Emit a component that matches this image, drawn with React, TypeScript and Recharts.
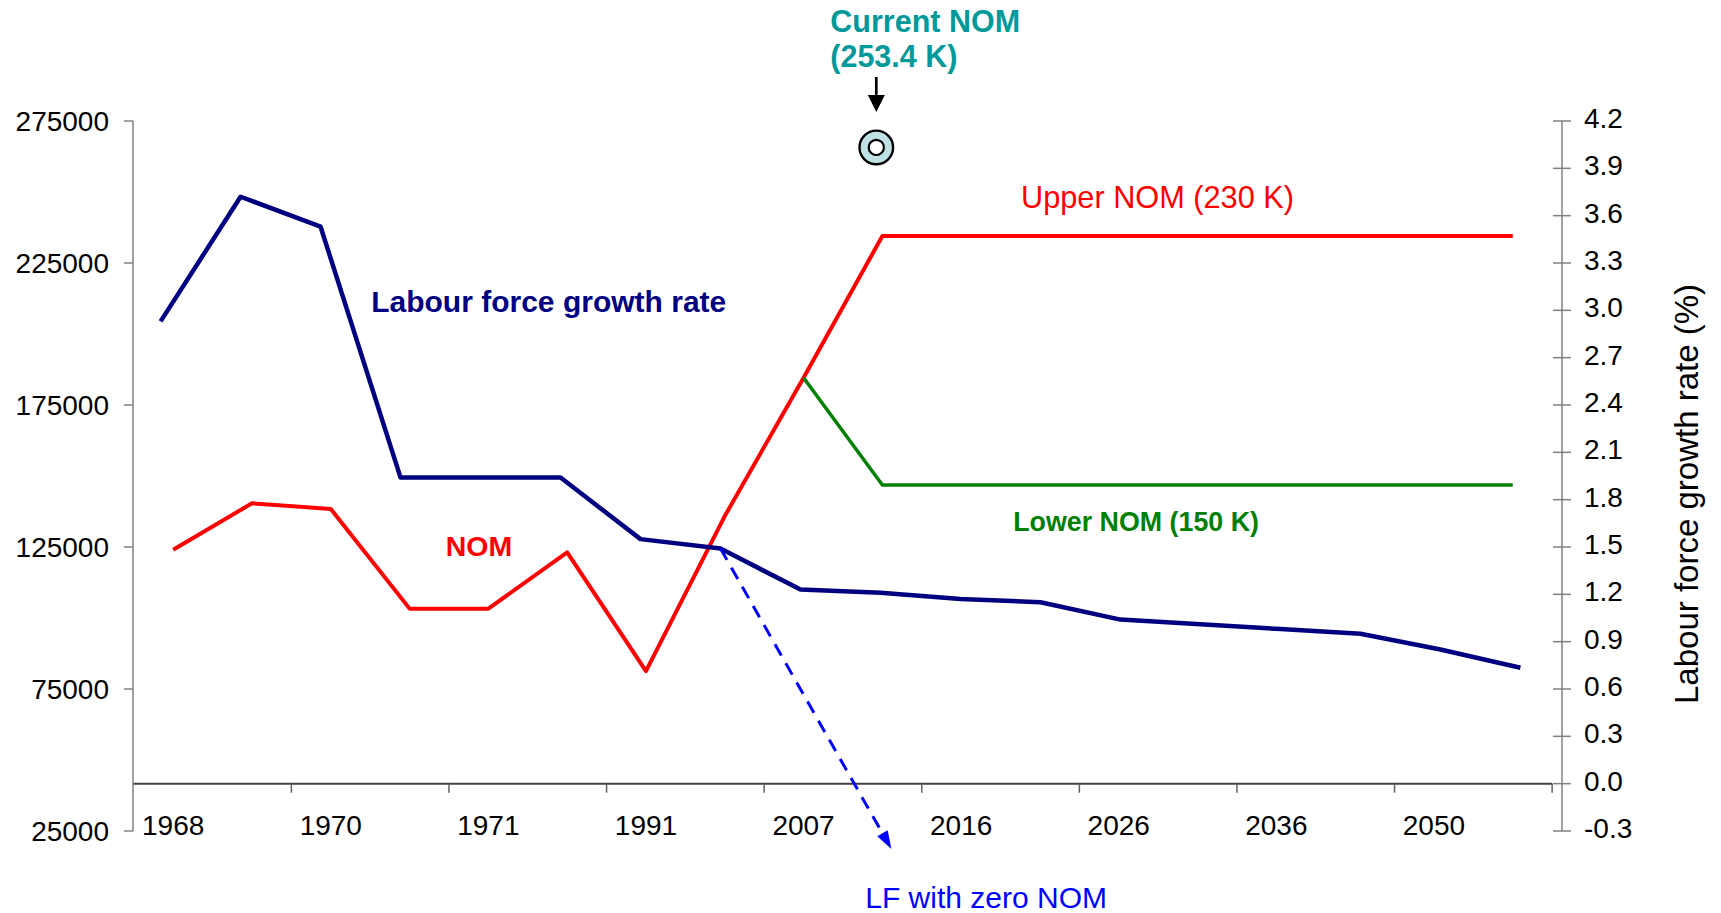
import React from 'react';
import { LineChart, Line, XAxis, YAxis, ReferenceLine, ReferenceDot } from 'recharts';

const FONT = '"Liberation Sans", Arial, Helvetica, sans-serif';

// category axis: only every second label is printed
const years = ['1968', '', '1970', '', '1971', '', '1991', '', '2007', '', '2016', '', '2026', '', '2036', '', '2050', ''];

// net overseas migration (persons), left axis
const nom = [124000, 140400, 138400, 103300, 103300, 123100, 81300, 135900, 184600, null, null, null, null, null, null, null, null, null];
const upperNom = [null, null, null, null, null, null, null, null, 184600, 234500, 234500, 234500, 234500, 234500, 234500, 234500, 234500, 234500];
const lowerNom = [null, null, null, null, null, null, null, null, 184600, 146800, 146800, 146800, 146800, 146800, 146800, 146800, 146800, 146800];

// labour force growth rate (%), right axis
const lfRate = [2.93, 3.72, 3.53, 1.94, 1.94, 1.94, 1.55, 1.49, 1.23, 1.21, 1.17, 1.15, 1.04, 1.01, 0.98, 0.95, 0.85, 0.735];

const nomTicks = [25000, 75000, 125000, 175000, 225000, 275000];
const rateTicks = [-0.3, 0, 0.3, 0.6, 0.9, 1.2, 1.5, 1.8, 2.1, 2.4, 2.7, 3.0, 3.3, 3.6, 3.9, 4.2];
const yearTicks = years.map((y, i) => (y ? i : -1)).filter((i) => i >= 0);
const boundaries = [1.5, 3.5, 5.5, 7.5, 9.5, 11.5, 13.5, 15.5, 17.5];

// "LF with zero NOM" projection ends below the axis
const zeroNomEnd = { x: 9.136, y: -0.414 };

// current NOM marker and its call-out
const currentNom = { x: 8.923, y: 265700 };
const currentArrow = { top: 290500, bottom: 278200 };

const notes = [
  { x: 10.76, y: 244200, lines: ['Upper NOM (230 K)'], color: '#FF0000', size: 30.7, weight: 400 },
  { x: 2.513, y: 207750, lines: ['Labour force growth rate'], color: '#000080', size: 30, weight: 700 },
  { x: 3.458, y: 121940, lines: ['NOM'], color: '#FF0000', size: 28.5, weight: 700 },
  { x: 10.661, y: 130640, lines: ['Lower NOM (150 K)'], color: '#008000', size: 26.8, weight: 700 },
  { x: 8.783, y: -2100, lines: ['LF with zero NOM'], color: '#0000FF', size: 30, weight: 400 },
  { x: 8.339, y: 306440, lines: ['Current NOM', '(253.4 K)'], color: '#009999', size: 30.5, weight: 700 },
];

const rows = years.map((year, i) => ({
  i,
  year,
  nom: nom[i],
  upper: upperNom[i],
  lower: lowerNom[i],
  lf: lfRate[i],
}));

const YearTick = ({ x, y, payload }: any) => (
  <text x={x} y={y + 4} textAnchor="middle" fontSize={28} fontFamily={FONT} fill="#000">
    {years[payload.value]}
  </text>
);

const RateTick = ({ x, y, payload }: any) => (
  <g>
    <line x1={x - 31} x2={x - 13} y1={y} y2={y} stroke="#808080" strokeWidth={1.5} />
    <text x={x} y={y - 3} dy="0.355em" fontSize={28} fontFamily={FONT} fill="#000">
      {Number(payload.value).toFixed(1)}
    </text>
  </g>
);

const rateTitle = (props: any) => {
  const vb = props.viewBox;
  const cx = vb.x + 136;
  const cy = vb.y + vb.height / 2 + 18;
  return (
    <text x={cx} y={cy} transform={`rotate(-90, ${cx}, ${cy})`} textAnchor="middle" fontSize={33} fontFamily={FONT} fill="#000">
      Labour force growth rate (%)
    </text>
  );
};

const arrowShape = (color: string, width: number, dash: string | undefined, headLen: number, headHalf: number) => (p: any) => {
  const { x1, y1, x2, y2 } = p;
  const len = Math.hypot(x2 - x1, y2 - y1) || 1;
  const ux = (x2 - x1) / len;
  const uy = (y2 - y1) / len;
  const bx = x2 - ux * headLen;
  const by = y2 - uy * headLen;
  const pts = `${x2},${y2} ${bx - uy * headHalf},${by + ux * headHalf} ${bx + uy * headHalf},${by - ux * headHalf}`;
  return (
    <g>
      <line x1={x1} y1={y1} x2={bx} y2={by} stroke={color} strokeWidth={width} strokeDasharray={dash} />
      <polygon points={pts} fill={color} />
    </g>
  );
};

const ringShape = ({ cx, cy }: any) => (
  <g>
    <circle cx={cx} cy={cy} r={16.8} fill="#BFE1E4" stroke="#000" strokeWidth={2.4} />
    <circle cx={cx} cy={cy} r={7.6} fill="#fff" stroke="#000" strokeWidth={2.2} />
  </g>
);

const noteShape = (n: any) => ({ cx, cy }: any) => (
  <text x={cx} y={cy} fill={n.color} fontSize={n.size} fontWeight={n.weight} fontFamily={FONT}>
    {n.lines.map((t: string, k: number) => (
      <tspan key={k} x={cx} dy={k === 0 ? 0 : 34.8}>
        {t}
      </tspan>
    ))}
  </text>
);

export default function App() {
  return (
    <div style={{ position: 'absolute', left: 0, top: 0, width: 1721, height: 913, background: '#fff' }}>
      <LineChart width={1721} height={913} data={rows} margin={{ top: 121, right: 0, bottom: 0, left: 0 }}>
        <XAxis
          xAxisId="cat"
          type="number"
          dataKey="i"
          domain={[-0.51, 17.625]}
          ticks={yearTicks}
          interval={0}
          axisLine={false}
          tickLine={false}
          tickSize={0}
          tickMargin={0}
          height={82}
          tick={YearTick}
        />
        <XAxis xAxisId="lf" type="number" dataKey="i" domain={[-0.345, 17.52]} hide />
        <YAxis
          yAxisId="left"
          width={133}
          domain={[25000, 275000]}
          ticks={nomTicks}
          interval={0}
          tickSize={9}
          tickMargin={15}
          axisLine={{ stroke: '#808080', strokeWidth: 1.5 }}
          tickLine={{ stroke: '#808080', strokeWidth: 1.5 }}
          tick={{ fontSize: 28, fill: '#000', fontFamily: FONT }}
        />
        <YAxis
          yAxisId="right"
          orientation="right"
          width={159}
          domain={[-0.3, 4.2]}
          ticks={rateTicks}
          interval={0}
          tickSize={0}
          tickMargin={22}
          tickLine={false}
          axisLine={{ stroke: '#808080', strokeWidth: 1.5 }}
          tick={RateTick}
          label={rateTitle}
        />

        <ReferenceLine
          xAxisId="cat"
          yAxisId="right"
          segment={[{ x: -0.51, y: 0 }, { x: 17.5, y: 0 }]}
          stroke="#404040"
          strokeWidth={2}
          ifOverflow="visible"
        />
        {boundaries.map((b) => (
          <ReferenceLine
            key={b}
            xAxisId="cat"
            yAxisId="right"
            segment={[{ x: b, y: 0 }, { x: b, y: -0.057 }]}
            stroke="#606060"
            strokeWidth={1.5}
            ifOverflow="visible"
          />
        ))}

        <Line xAxisId="cat" yAxisId="left" dataKey="nom" stroke="#FF0000" strokeWidth={4} dot={false} strokeLinejoin="round" isAnimationActive={false} />
        <Line xAxisId="cat" yAxisId="left" dataKey="upper" stroke="#FF0000" strokeWidth={4} dot={false} strokeLinejoin="round" isAnimationActive={false} />
        <Line xAxisId="cat" yAxisId="left" dataKey="lower" stroke="#008000" strokeWidth={3.5} dot={false} strokeLinejoin="round" isAnimationActive={false} />
        <Line xAxisId="lf" yAxisId="right" dataKey="lf" stroke="#000080" strokeWidth={4.5} dot={false} strokeLinejoin="round" isAnimationActive={false} />

        <ReferenceLine
          xAxisId="lf"
          yAxisId="right"
          segment={[{ x: 7, y: lfRate[7] }, zeroNomEnd]}
          ifOverflow="visible"
          shape={arrowShape('#0000FF', 3, '13 9', 18, 6)}
        />
        <ReferenceLine
          xAxisId="cat"
          yAxisId="left"
          segment={[{ x: currentNom.x, y: currentArrow.top }, { x: currentNom.x, y: currentArrow.bottom }]}
          ifOverflow="visible"
          shape={arrowShape('#000', 2.7, undefined, 17, 8.5)}
        />
        <ReferenceDot xAxisId="cat" yAxisId="left" x={currentNom.x} y={currentNom.y} r={17} ifOverflow="visible" shape={ringShape} />

        {notes.map((n) => (
          <ReferenceDot
            key={n.lines[0]}
            xAxisId="cat"
            yAxisId="left"
            x={n.x}
            y={n.y}
            r={1}
            ifOverflow="visible"
            shape={noteShape(n)}
          />
        ))}
      </LineChart>
    </div>
  );
}
